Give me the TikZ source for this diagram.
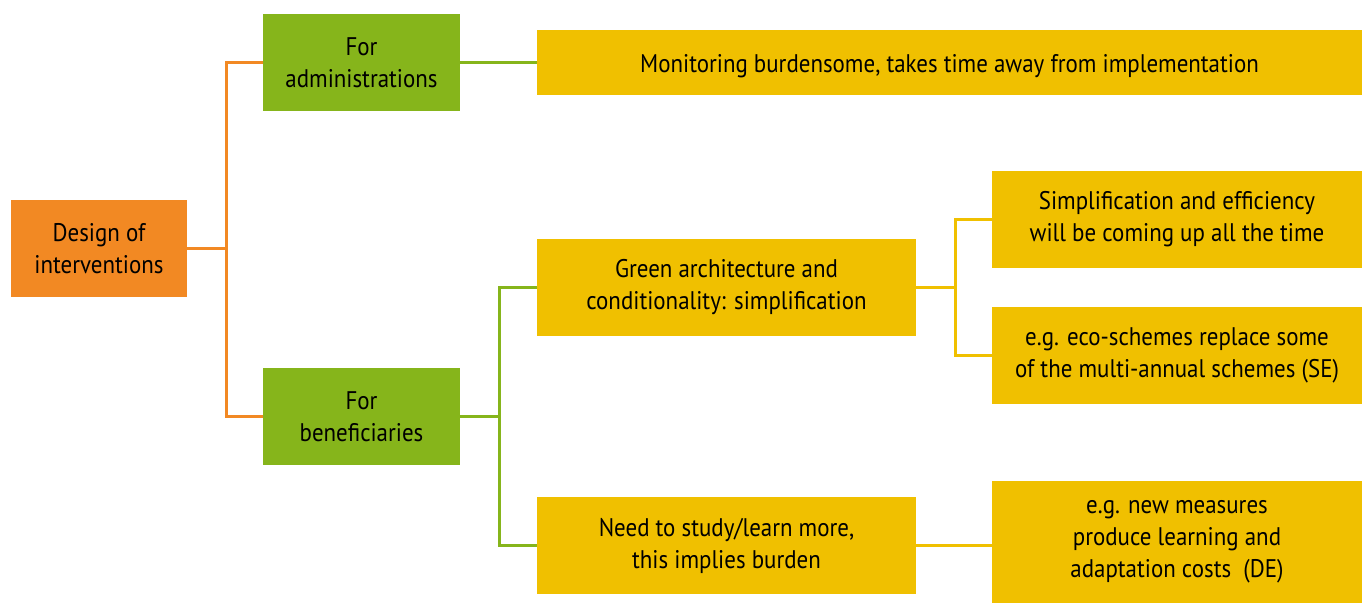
\documentclass[tikz,border=0pt]{standalone}
\usepackage{fontspec}
\setmainfont{PT Sans}[FakeStretch=0.9]
\usepackage{tikz}
\usetikzlibrary{positioning}
\definecolor{naranjaraiz}{RGB}{242,137,35}
\definecolor{verdenivel}{RGB}{134,181,27}
\definecolor{amarillohoja}{RGB}{240,192,0}

\begin{document}
\begin{tikzpicture}[x=0.02cm, y=-0.02cm,
    box/.style={rectangle, inner sep=2pt, align=center,
                font=\fontsize{14.5}{18.2}\selectfont},
    rootbox/.style={box, fill=naranjaraiz, minimum width=3.52cm, minimum height=1.94cm},
    levelbox/.style={box, fill=verdenivel, minimum width=3.94cm, minimum height=1.94cm},
    leafbox/.style={box, fill=amarillohoja, minimum height=1.94cm},
    link/.style={line width=1.4pt}
  ]
    \useasboundingbox (0,0) rectangle (1362,603);

    \node[rootbox] (diseno) at (99,248.5) {Design of\\interventions};
    \node[levelbox] (admin) at (361.5,62.5) {For\\administrations};
    \node[levelbox] (benef) at (361.5,416.5) {For\\beneficiaries};
    \node[leafbox, minimum width=16.5cm, minimum height=1.3cm,
          text height=13.6pt, text depth=2pt] (monitor) at (949.5,62.5)
      {Monitoring burdensome, takes time away from implementation};
    \node[leafbox, minimum width=7.58cm] (arqverde) at (726.5,287.5)
      {Green architecture and\\conditionality: simplification};
    \node[leafbox, minimum width=7.58cm] (estudiar) at (726.5,545.5)
      {Need to study/learn more,\\this implies burden};
    \node[leafbox, minimum width=7.4cm] (simplif) at (1177,219.5)
      {Simplification and efficiency\\will be coming up all the time};
    \node[leafbox, minimum width=7.4cm] (ecoesq) at (1177,355.5)
      {e.g. eco-schemes replace some\\of the multi-annual schemes (SE)};
    \node[leafbox, minimum width=7.4cm, minimum height=2.44cm] (nuevas) at (1177,542)
      {e.g. new measures\\produce learning and\\adaptation costs~~(DE)};

    \draw[link, naranjaraiz] (diseno.east) -- +(39,0) |- (admin.west);
    \draw[link, naranjaraiz] (diseno.east) -- +(39,0) |- (benef.west);
    \draw[link, verdenivel] (admin.east) -- (monitor.west |- admin.east);
    \draw[link, verdenivel] (benef.east) -- +(39,0) |- (arqverde.west);
    \draw[link, verdenivel] (benef.east) -- +(39,0) |- (estudiar.west);
    \draw[link, amarillohoja] (arqverde.east) -- +(39,0) |- (simplif.west);
    \draw[link, amarillohoja] (arqverde.east) -- +(39,0) |- (ecoesq.west);
    \draw[link, amarillohoja] (estudiar.east) -- (nuevas.west |- estudiar.east);
  \end{tikzpicture}
\end{document}
